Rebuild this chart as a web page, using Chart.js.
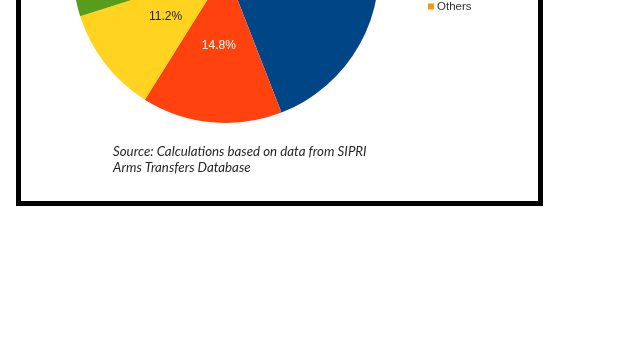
<!DOCTYPE html>
<html>
<head>
<meta charset="utf-8">
<script src="https://cdn.jsdelivr.net/npm/chart.js@4/dist/chart.umd.min.js"></script>
<style>
  html, body { margin: 0; padding: 0; background: #fff; width: 640px; height: 359px; overflow: hidden; }
  #box { position: absolute; left: 16px; top: -100px; width: 527px; height: 306px; box-sizing: border-box; border: 5px solid #000; background: #fff; }
  #c { position: absolute; left: 0; top: -300px; }
</style>
</head>
<body>
<div id="box"></div>
<canvas id="c" width="640" height="500"></canvas>
<script>
// Data (hidden slices estimated)
const categories = ['USA', 'Russia', 'Germany', 'France', 'UK', 'Netherlands', 'Italy', 'Israel', 'Spain', 'Others'];
const shares = [44.1, 14.8, 11.2, 7.5, 5.2, 4.6, 3.1, 2.5, 2.2, 4.8];
const sliceColors = ['#004586', '#FF420E', '#FFD320', '#579D1C', '#7E0021', '#83CAFF', '#314004', '#AECF00', '#4B1F6F', '#FF950E'];
const labelColors = ['#ffffff', '#ffffff', '#222222', '#ffffff', '#ffffff', '#222222', '#ffffff', '#222222', '#ffffff', '#222222'];
const sourceLines = ['Source: Calculations based on data from SIPRI', 'Arms Transfers Database'];

const OFFSET_Y = 300; // canvas sits 300px above page top

const valueLabels = {
  id: 'valueLabels',
  afterDatasetsDraw(chart) {
    const ctx = chart.ctx;
    const meta = chart.getDatasetMeta(0);
    ctx.save();
    ctx.font = '12px "Liberation Sans", Arial, sans-serif';
    ctx.textAlign = 'center';
    ctx.textBaseline = 'middle';
    meta.data.forEach((arc, i) => {
      const p = arc.tooltipPosition();
      ctx.fillStyle = labelColors[i];
      ctx.fillText(shares[i].toFixed(1) + '%', p.x, p.y);
    });
    ctx.restore();
  }
};

const customLegend = {
  id: 'customLegend',
  afterDraw(chart) {
    const ctx = chart.ctx;
    const n = categories.length;
    const lastY = 7 + OFFSET_Y;
    const step = 16;
    ctx.save();
    ctx.font = '11.5px "Liberation Sans", Arial, sans-serif';
    ctx.textBaseline = 'middle';
    ctx.textAlign = 'left';
    for (let i = 0; i < n; i++) {
      const y = lastY - (n - 1 - i) * step;
      ctx.fillStyle = sliceColors[i];
      ctx.fillRect(428, y - 3.5, 6, 6);
      ctx.fillStyle = '#333333';
      ctx.fillText(categories[i], 437, y);
    }
    ctx.restore();
  }
};

const sourceNote = {
  id: 'sourceNote',
  afterDraw(chart) {
    const ctx = chart.ctx;
    ctx.save();
    ctx.font = 'italic 12px Lato, "Open Sans", sans-serif';
    const w = ctx.measureText(sourceLines[0]).width;
    const size = 12 * 254 / w;
    ctx.font = 'italic ' + size.toFixed(2) + 'px Lato, "Open Sans", sans-serif';
    ctx.fillStyle = '#262626';
    ctx.textBaseline = 'middle';
    ctx.textAlign = 'left';
    ctx.fillText(sourceLines[0], 113, 152 + OFFSET_Y);
    ctx.fillText(sourceLines[1], 113, 168 + OFFSET_Y);
    ctx.restore();
  }
};

new Chart(document.getElementById('c'), {
  type: 'pie',
  data: {
    labels: categories,
    datasets: [{
      data: shares,
      backgroundColor: sliceColors,
      borderWidth: 0
    }]
  },
  options: {
    responsive: false,
    devicePixelRatio: 1,
    animation: false,
    rotation: 0,
    layout: { padding: { left: 73, right: 261, top: 117, bottom: 77 } },
    plugins: {
      legend: { display: false },
      tooltip: { enabled: false },
      title: { display: false }
    }
  },
  plugins: [valueLabels, customLegend, sourceNote]
});
</script>
</body>
</html>
